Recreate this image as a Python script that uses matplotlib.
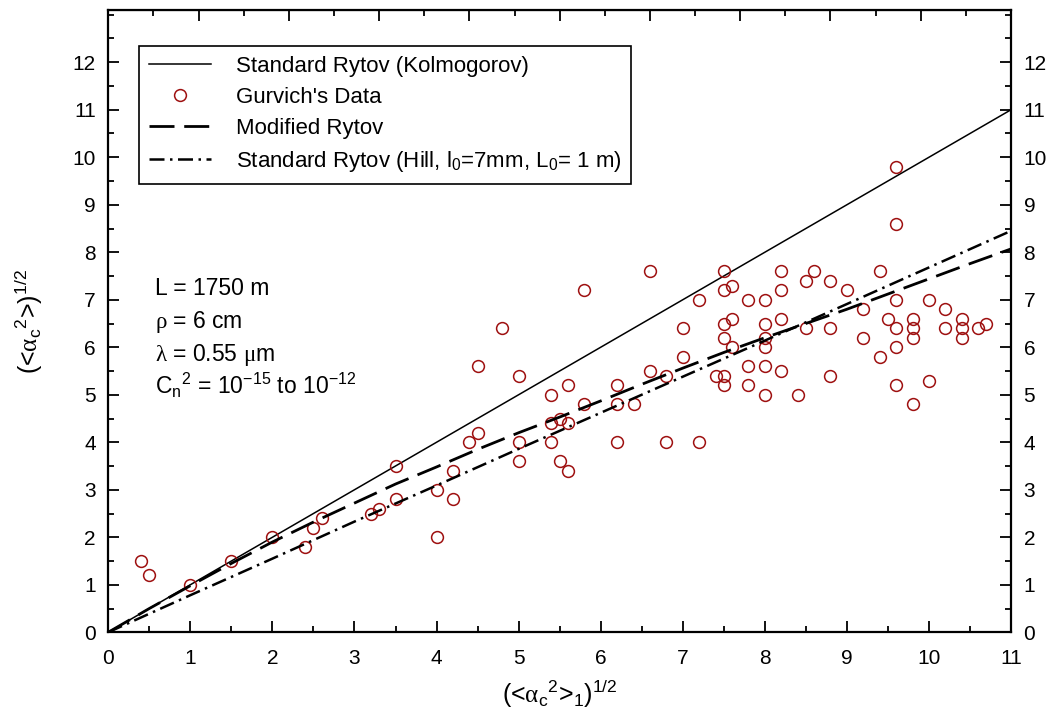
import numpy as np
import matplotlib
matplotlib.use("Agg")
import matplotlib.pyplot as plt
from matplotlib.ticker import MultipleLocator

plt.rcParams['font.family'] = ['Liberation Sans', 'DejaVu Sans']
plt.rcParams['mathtext.fontset'] = 'custom'
plt.rcParams['mathtext.rm'] = 'Liberation Sans'
plt.rcParams['mathtext.it'] = 'Liberation Serif'
plt.rcParams['mathtext.default'] = 'regular'

# Gurvich's measurements
data_x = [0.4, 0.5, 1.0, 1.5, 2.0, 2.4, 2.5, 2.6, 3.2, 3.3, 3.5, 3.5, 4.0, 4.0, 4.2, 4.2,
          4.4, 4.5, 4.5, 4.8, 5.0, 5.0, 5.0, 5.4, 5.4, 5.4, 5.5, 5.5, 5.6, 5.6, 5.6, 5.8,
          6.2, 6.2, 6.2, 6.4, 6.6, 6.8, 6.8, 5.8, 6.6,
          7.0, 7.0, 7.2, 7.2, 7.4, 7.5, 7.5, 7.5, 7.5, 7.5, 7.5, 7.6, 7.6, 7.6, 7.8, 7.8,
          7.8, 8.0, 8.0, 8.0, 8.0, 8.0, 8.0, 8.2, 8.2, 8.2, 8.2, 8.4, 8.5, 8.5, 8.6, 8.8,
          8.8, 8.8, 9.0, 9.2, 9.2, 9.4, 9.4, 9.5, 9.6, 9.6, 9.6, 9.6, 9.6, 9.6, 9.8, 9.8,
          9.8, 9.8, 10.0, 10.0, 10.2, 10.2, 10.4, 10.4, 10.4, 10.6, 10.7]
data_y = [1.5, 1.2, 1.0, 1.5, 2.0, 1.8, 2.2, 2.4, 2.5, 2.6, 2.8, 3.5, 3.0, 2.0, 2.8, 3.4,
          4.0, 4.2, 5.6, 6.4, 5.4, 4.0, 3.6, 5.0, 4.4, 4.0, 4.5, 3.6, 5.2, 4.4, 3.4, 4.8,
          5.2, 4.8, 4.0, 4.8, 5.5, 5.4, 4.0, 7.2, 7.6,
          6.4, 5.8, 7.0, 4.0, 5.4, 7.6, 7.2, 6.5, 6.2, 5.4, 5.2, 7.3, 6.6, 6.0, 7.0, 5.6,
          5.2, 7.0, 6.5, 6.2, 6.0, 5.6, 5.0, 7.6, 7.2, 6.6, 5.5, 5.0, 7.4, 6.4, 7.6, 7.4,
          6.4, 5.4, 7.2, 6.8, 6.2, 7.6, 5.8, 6.6, 9.8, 8.6, 7.0, 6.4, 6.0, 5.2, 6.6, 6.4,
          6.2, 4.8, 7.0, 5.3, 6.8, 6.4, 6.6, 6.4, 6.2, 6.4, 6.5]

# theory curves
kolm_x = [0, 11]
kolm_y = [0, 11]
mod_x = [0, 0.5, 1, 1.5, 2, 2.5, 3, 3.5, 4, 4.5, 5, 5.5, 6, 6.5, 7, 7.5, 8, 8.5, 9, 9.5,
         10, 10.5, 11]
mod_y = [0, 0.5, 0.98, 1.45, 1.9, 2.32, 2.72, 3.12, 3.48, 3.85, 4.2, 4.53, 4.87, 5.22,
         5.56, 5.89, 6.2, 6.5, 6.8, 7.12, 7.44, 7.76, 8.07]
hill_x = [0, 1, 2, 3, 4, 5, 6, 7, 8, 9, 10, 11]
hill_y = [0, 0.78, 1.55, 2.33, 3.09, 3.86, 4.62, 5.38, 6.14, 6.91, 7.68, 8.45]

fig = plt.figure(figsize=(10.49, 7.24), dpi=100)
ax = fig.add_axes([0.1032, 0.1267, 0.8606, 0.8595])

ax.plot(kolm_x, kolm_y, color='black', lw=1.1, label='Standard Rytov (Kolmogorov)')
ax.plot(data_x, data_y, ls='none', marker='o', ms=8.5, mfc='none', mec='#9e1010', mew=1.1,
        label="Gurvich's Data")
ax.plot(mod_x, mod_y, color='black', lw=2.0, dashes=(9, 3.5), label='Modified Rytov')
ax.plot(hill_x, hill_y, color='black', lw=1.8, dashes=(6, 2.2, 1, 2.2),
        label='Standard Rytov (Hill, l$_0$=7mm, L$_0$= 1 m)')

ax.set_xlim(0, 11)
ax.set_ylim(0, 13.1)
ax.xaxis.set_major_locator(MultipleLocator(1))
ax.xaxis.set_minor_locator(MultipleLocator(0.5))
ax.yaxis.set_minor_locator(MultipleLocator(0.5))
ax.set_yticks(np.arange(0, 13))
ax.tick_params(which='both', direction='in', labelsize=15, width=1.3,
               left=True, right=True, labelleft=True, labelright=True)
ax.tick_params(which='major', length=8)
ax.tick_params(which='minor', length=4)
ax.tick_params(axis='x', pad=12)
ax.tick_params(axis='y', pad=9)
for s in ax.spines.values():
    s.set_linewidth(1.6)

# unlabelled ticks along the top edge
top = ax.secondary_xaxis('top', functions=(lambda v: v * 20 / 11, lambda v: v * 11 / 20))
top.xaxis.set_major_locator(MultipleLocator(2))
top.xaxis.set_minor_locator(MultipleLocator(1))
top.tick_params(which='both', direction='in', labeltop=False, width=1.3)
top.tick_params(which='major', length=8)
top.tick_params(which='minor', length=4)

# greek letters go through the serif math font
ax.set_xlabel(r'(<$\mathit{\alpha}$$_c$$^2$>$_1$)$^{1/2}$', fontsize=18, labelpad=7)
ax.set_ylabel(r'(<$\mathit{\alpha}$$_c$$^2$>)$^{1/2}$', fontsize=18, labelpad=20)

leg = ax.legend(loc='upper left', bbox_to_anchor=(0.034, 0.942), fontsize=16,
                frameon=True, fancybox=False, edgecolor='black', framealpha=1,
                handlelength=2.8, handletextpad=1.1, labelspacing=0.45,
                borderpad=0.45, borderaxespad=0)
leg.get_frame().set_linewidth(1.2)

params = ['L = 1750 m', r'$\mathit{\rho}$ = 6 cm', r'$\mathit{\lambda}$ = 0.55 $\mathit{\mu}$m',
          'C$_n$$^2$ = 10$^{-15}$ to 10$^{-12}$']
for i, t in enumerate(params):
    ax.text(0.052, 0.542 - i * 0.053, t, transform=ax.transAxes, fontsize=16.5,
            va='baseline')

fig.savefig('out.png', dpi=100)
